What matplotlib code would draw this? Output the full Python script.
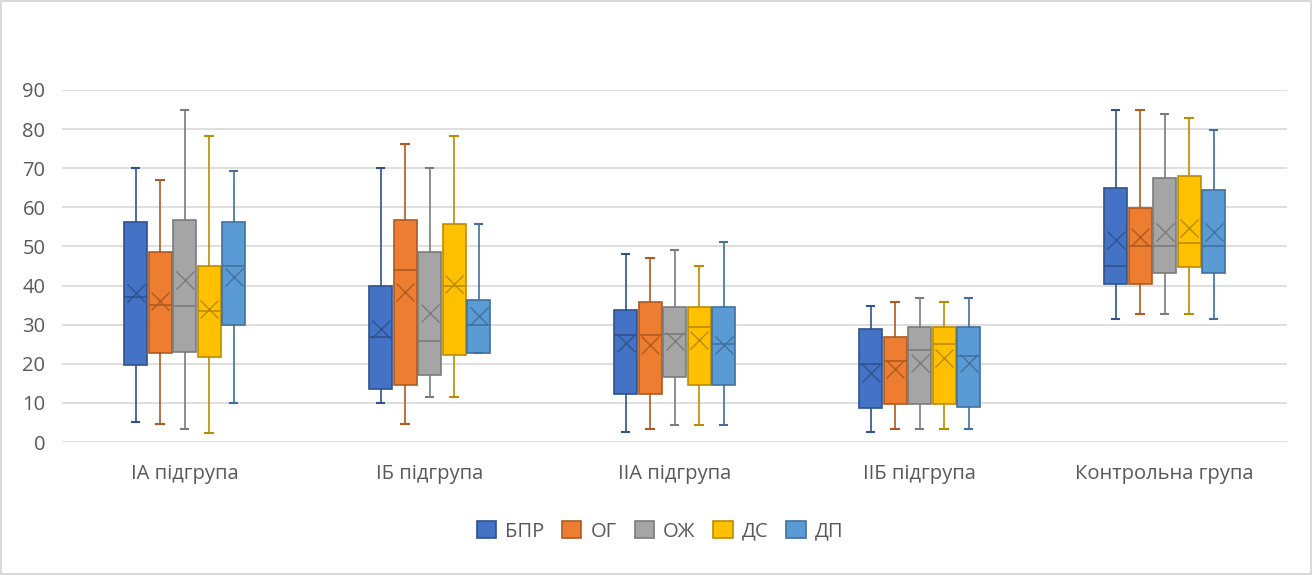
import matplotlib.pyplot as plt
from matplotlib.patches import Patch

plt.rcParams['font.family'] = ['Open Sans', 'DejaVu Sans']

groups = ["ІА підгрупа", "ІБ підгрупа", "ІІА підгрупа", "ІІБ підгрупа", "Контрольна група"]
series = ["БПР", "ОГ", "ОЖ", "ДС", "ДП"]
fills = ["#4472C4", "#ED7D31", "#A5A5A5", "#FFC000", "#5B9BD5"]
edges = ["#2F528F", "#AE5A21", "#7B7B7B", "#BC8C00", "#41719C"]

# per series: one value per group
whislo = {
    "БПР": [5, 10, 2.5, 2.5, 31.5],
    "ОГ": [4.5, 4.5, 3.3, 3.4, 32.6],
    "ОЖ": [3.3, 11.6, 4.4, 3.4, 32.6],
    "ДС": [2.4, 11.6, 4.4, 3.4, 32.6],
    "ДП": [10, 22.7, 4.4, 3.4, 31.5],
}
q1 = {
    "БПР": [19.8, 13.6, 12.4, 8.6, 40.3],
    "ОГ": [22.8, 14.6, 12.4, 9.6, 40.3],
    "ОЖ": [22.9, 17.1, 16.7, 9.6, 43.3],
    "ДС": [21.8, 22.2, 14.6, 9.6, 44.8],
    "ДП": [29.9, 22.7, 14.6, 9.0, 43.3],
}
med = {
    "БПР": [37.1, 26.8, 27.4, 19.9, 45.0],
    "ОГ": [35.1, 43.9, 27.4, 20.8, 50.1],
    "ОЖ": [34.7, 25.9, 27.6, 23.4, 50.1],
    "ДС": [33.6, 39.9, 29.4, 25.0, 51.0],
    "ДП": [45.0, 30.0, 25.0, 21.9, 50.1],
}
q3 = {
    "БПР": [56.3, 39.9, 33.7, 29.0, 65.0],
    "ОГ": [48.5, 56.7, 35.7, 26.9, 59.8],
    "ОЖ": [56.7, 48.5, 34.5, 29.5, 67.5],
    "ДС": [45.0, 55.7, 34.5, 29.5, 68.1],
    "ДП": [56.3, 36.3, 34.5, 29.5, 64.5],
}
whishi = {
    "БПР": [70, 70, 48, 34.7, 84.9],
    "ОГ": [67, 76.3, 47, 35.7, 85],
    "ОЖ": [85, 70, 49, 36.8, 83.8],
    "ДС": [78.3, 78.3, 45, 35.7, 82.8],
    "ДП": [69.2, 55.7, 51.1, 36.8, 79.8],
}
means = {
    "БПР": [38.1, 29.0, 25.3, 17.6, 51.7],
    "ОГ": [36.0, 38.3, 24.9, 18.7, 52.5],
    "ОЖ": [41.3, 33.1, 25.9, 20.3, 53.6],
    "ДС": [34.1, 40.3, 26.1, 21.4, 54.7],
    "ДП": [42.3, 32.1, 24.7, 20.3, 53.6],
}

fig = plt.figure(figsize=(13.12, 5.75), dpi=100)
fig.patch.set_edgecolor("#D9D9D9")
fig.patch.set_linewidth(1.5)
ax = fig.add_axes([0.0473, 0.2313, 0.9337, 0.6122])

step = 0.1
width = 0.094
for i, name in enumerate(series):
    stats = []
    for g in range(len(groups)):
        stats.append(dict(
            whislo=whislo[name][g], q1=q1[name][g], med=med[name][g],
            q3=q3[name][g], whishi=whishi[name][g], mean=means[name][g],
            fliers=[],
        ))
    positions = [g + (i - 2) * step for g in range(len(groups))]
    ax.bxp(
        stats, positions=positions, widths=width, patch_artist=True,
        showmeans=True, manage_ticks=False,
        boxprops=dict(facecolor=fills[i], edgecolor=edges[i], linewidth=1.2),
        medianprops=dict(color=edges[i], linewidth=1.2),
        whiskerprops=dict(color=edges[i], linewidth=1.2),
        capprops=dict(color=edges[i], linewidth=1.5),
        capwidths=0.03,
        meanprops=dict(marker="x", markeredgecolor=edges[i], markersize=13,
                       markeredgewidth=1.0),
    )

ax.set_xlim(-0.5, len(groups) - 0.5)
ax.set_ylim(0, 90)
ax.set_yticks(range(0, 91, 10))
ax.set_xticks(range(len(groups)))
ax.set_xticklabels(groups)
ax.yaxis.grid(True, color="#D9D9D9", linewidth=1.2)
ax.set_axisbelow(True)
for side in ax.spines.values():
    side.set_visible(False)
ax.tick_params(axis="both", length=0, labelsize=14.5, labelcolor="#595959")
ax.tick_params(axis="x", pad=16)
ax.tick_params(axis="y", pad=12)

handles = [Patch(facecolor=f, edgecolor=e, linewidth=1.2) for f, e in zip(fills, edges)]
fig.legend(handles, series, loc="center", bbox_to_anchor=(0.503, 0.076), ncol=5,
           frameon=False, fontsize=14.5, labelcolor="#595959",
           handlelength=0.95, handleheight=0.95, handletextpad=0.45, columnspacing=0.9)

fig.savefig("out.png", dpi=100)
